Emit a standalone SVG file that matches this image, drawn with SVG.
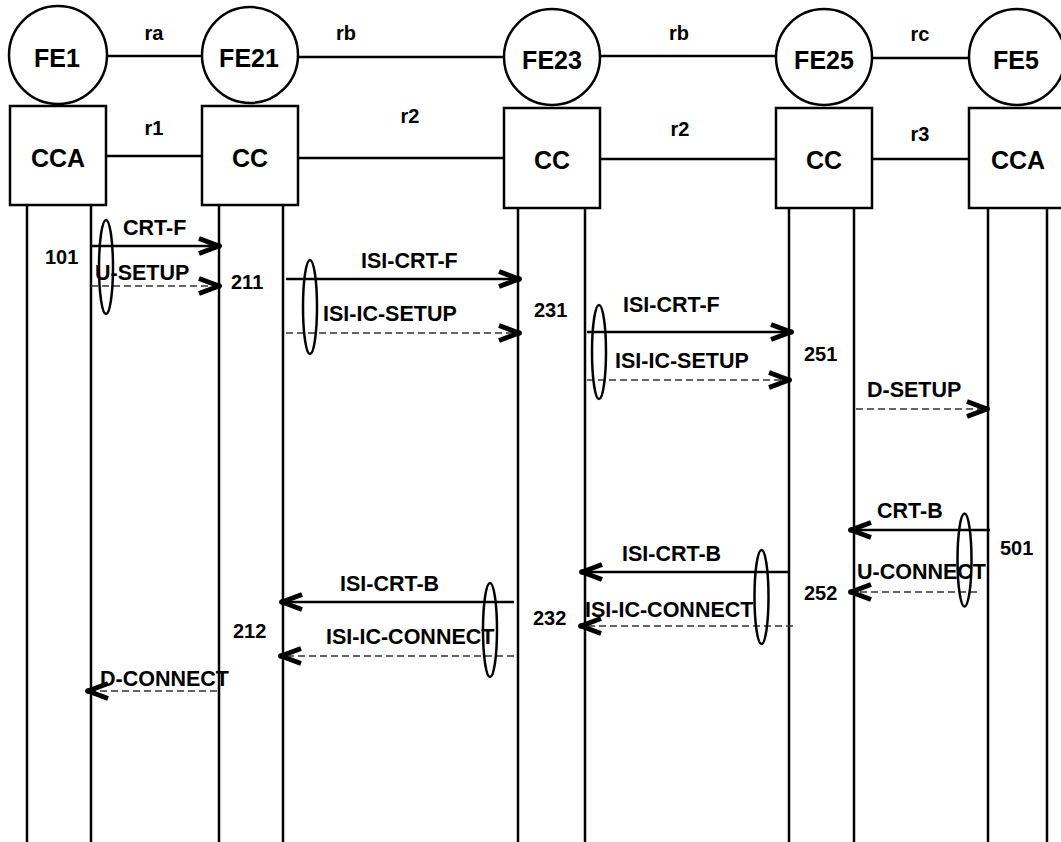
<svg xmlns="http://www.w3.org/2000/svg" width="1061" height="842" viewBox="0 0 1061 842">
<style>
.shape{fill:#fff;stroke:#000;stroke-width:2.5}
.nl{font-family:"Liberation Sans",Arial,sans-serif;font-weight:bold;font-size:25px;text-anchor:middle;fill:#000}
.el{font-family:"Liberation Sans",Arial,sans-serif;font-weight:bold;font-size:20px;text-anchor:middle;fill:#000}
.ml{font-family:"Liberation Sans",Arial,sans-serif;font-weight:bold;font-size:21.5px;fill:#000}
.num{font-family:"Liberation Sans",Arial,sans-serif;font-weight:bold;font-size:20px;fill:#000}
.link{stroke:#000;stroke-width:2.5;fill:none}
.life{stroke:#000;stroke-width:2.5;fill:none}
.solid{stroke:#000;stroke-width:2.5;fill:none;marker-end:url(#ah)}
.dash{stroke:#333;stroke-width:1.5;stroke-dasharray:7,4;fill:none;marker-end:url(#ah)}
.oval{fill:none;stroke:#000;stroke-width:2.5}
</style>
<defs>
<marker id="ah" viewBox="-26 -12 32 24" markerWidth="32" markerHeight="24" refX="0" refY="0" orient="auto" markerUnits="userSpaceOnUse">
<path d="M-20,-7.5 L0,0 L-20,7.5" fill="none" stroke="#000" stroke-width="5" stroke-linejoin="round" stroke-dasharray="none"/>
<circle r="2.8" fill="#000"/>
</marker>
</defs>
<rect width="1061" height="842" fill="#fff"/>

<g id="lifelines">
<path class="life" d="M27,205V842M91,205V842M219,205V842M283,205V842M518,208V842M585,208V842M789,208V842M854,208V842M988,208V842M1047,208V842"/>
</g>

<g id="links">
<line class="link" x1="107" y1="56" x2="202" y2="56"/>
<line class="link" x1="298" y1="57" x2="504" y2="57"/>
<line class="link" x1="600" y1="56" x2="776" y2="56"/>
<line class="link" x1="872" y1="58" x2="969" y2="58"/>
<line class="link" x1="106" y1="156" x2="202" y2="156"/>
<line class="link" x1="298" y1="158" x2="504" y2="158"/>
<line class="link" x1="600" y1="159" x2="776" y2="159"/>
<line class="link" x1="872" y1="159" x2="969" y2="159"/>
<text class="el" x="154" y="40">ra</text>
<text class="el" x="346" y="40">rb</text>
<text class="el" x="679" y="40">rb</text>
<text class="el" x="920" y="41">rc</text>
<text class="el" x="154" y="135">r1</text>
<text class="el" x="410" y="123">r2</text>
<text class="el" x="680" y="136">r2</text>
<text class="el" x="920" y="141">r3</text>
</g>

<g id="FE1"><circle class="shape" cx="58" cy="55" r="49"/><text class="nl" x="57" y="67">FE1</text></g>
<g id="FE21"><circle class="shape" cx="250" cy="55" r="48"/><text class="nl" x="249" y="67">FE21</text></g>
<g id="FE23"><circle class="shape" cx="552" cy="57" r="48"/><text class="nl" x="552" y="69">FE23</text></g>
<g id="FE25"><circle class="shape" cx="824" cy="57" r="48"/><text class="nl" x="824" y="69">FE25</text></g>
<g id="FE5"><circle class="shape" cx="1017" cy="57" r="48"/><text class="nl" x="1016" y="69">FE5</text></g>

<g id="CCA1"><rect class="shape" x="10" y="106" width="96" height="99"/><text class="nl" x="58" y="167">CCA</text></g>
<g id="CC21"><rect class="shape" x="202" y="106" width="96" height="99"/><text class="nl" x="250" y="167">CC</text></g>
<g id="CC23"><rect class="shape" x="504" y="108" width="96" height="100"/><text class="nl" x="552" y="169">CC</text></g>
<g id="CC25"><rect class="shape" x="776" y="108" width="96" height="100"/><text class="nl" x="824" y="169">CC</text></g>
<g id="CCA5"><rect class="shape" x="969" y="108" width="96" height="100"/><text class="nl" x="1018" y="169">CCA</text></g>

<g id="connectors">
<path class="solid" d="M91,246H219"/>
<path class="dash" d="M91,286H219"/>
<path class="solid" d="M286,279H519"/>
<path class="dash" d="M286,333H519"/>
<path class="solid" d="M587,332H791"/>
<path class="dash" d="M587,380H789"/>
<path class="dash" d="M856,409H987"/>
<path class="solid" d="M990,530H851"/>
<path class="dash" d="M977,592H851"/>
<path class="solid" d="M789,572H582"/>
<path class="dash" d="M793,626H581"/>
<path class="solid" d="M514,602H282"/>
<path class="dash" d="M514,656H281"/>
<path class="dash" d="M217,691H88"/>
<ellipse class="oval" cx="106" cy="267" rx="7" ry="47"/>
<ellipse class="oval" cx="310" cy="307" rx="7" ry="47"/>
<ellipse class="oval" cx="599" cy="352" rx="7" ry="47"/>
<ellipse class="oval" cx="964.5" cy="560" rx="7" ry="46.5"/>
<ellipse class="oval" cx="761.5" cy="597" rx="7" ry="47"/>
<ellipse class="oval" cx="490" cy="630" rx="7" ry="47"/>
<text class="ml" x="123" y="235">CRT-F</text>
<text class="ml" x="95" y="280">U-SETUP</text>
<text class="ml" x="361" y="268">ISI-CRT-F</text>
<text class="ml" x="323" y="321">ISI-IC-SETUP</text>
<text class="ml" x="623" y="312">ISI-CRT-F</text>
<text class="ml" x="615" y="368">ISI-IC-SETUP</text>
<text class="ml" x="867" y="397">D-SETUP</text>
<text class="ml" x="877" y="518">CRT-B</text>
<text class="ml" x="857" y="579">U-CONNECT</text>
<text class="ml" x="622" y="561">ISI-CRT-B</text>
<text class="ml" x="585" y="617">ISI-IC-CONNECT</text>
<text class="ml" x="340" y="591">ISI-CRT-B</text>
<text class="ml" x="326" y="644">ISI-IC-CONNECT</text>
<text class="ml" x="100" y="686">D-CONNECT</text>
<text class="num" x="45" y="264">101</text>
<text class="num" x="231" y="289">211</text>
<text class="num" x="534" y="317">231</text>
<text class="num" x="804" y="361">251</text>
<text class="num" x="1000" y="555">501</text>
<text class="num" x="804" y="600">252</text>
<text class="num" x="533" y="625">232</text>
<text class="num" x="233" y="638">212</text>
</g>
</svg>
